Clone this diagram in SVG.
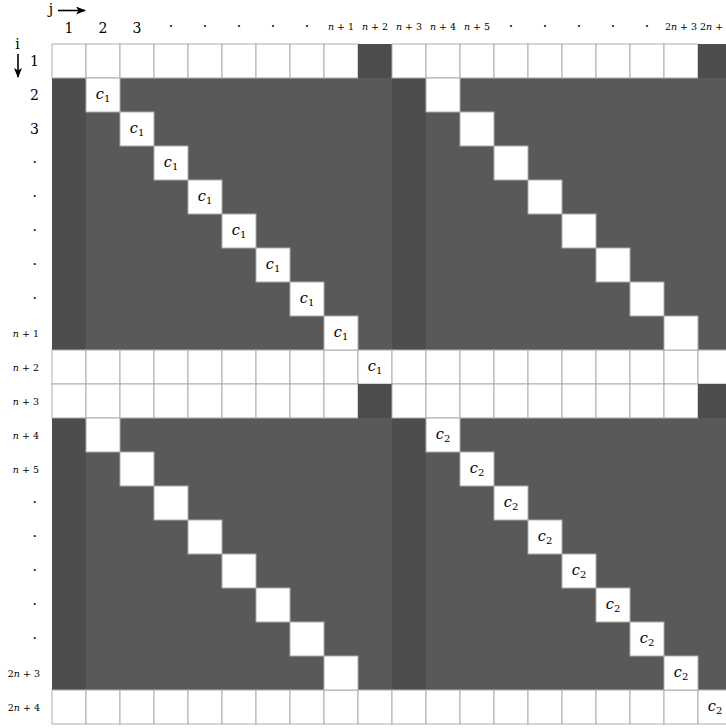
<svg xmlns="http://www.w3.org/2000/svg" width="726" height="728" viewBox="0 0 726 728">
<style>
.w{fill:#ffffff;stroke:#adadad;stroke-width:1}
.d{fill:#4d4d4d}
.m{fill:#595959}
text{font-family:"DejaVu Serif","Liberation Serif",serif;fill:#000}
.big{font-size:14px}
.sm{font-size:9.5px}
.mid{text-anchor:middle}
.end{text-anchor:end}
.c{font-size:14.5px;font-style:italic;text-anchor:middle}
.sub{font-size:10px;font-style:normal}
.dot{font-size:14px}
</style>
<defs>
<rect id="w" class="w" width="34" height="34"/>
<marker id="ah" viewBox="0 0 10 8" refX="9" refY="4" markerWidth="10" markerHeight="8" markerUnits="userSpaceOnUse" orient="auto">
<path d="M0,0 L10,4 L0,8 L2.5,4 Z" fill="#000"/>
</marker>
</defs>
<rect width="726" height="728" fill="#fff"/>

<g id="connectors" stroke="#000" stroke-width="1.6" fill="none">
<line x1="58" y1="10.5" x2="85" y2="10.5" marker-end="url(#ah)"/>
<line x1="18" y1="54" x2="18" y2="77" marker-end="url(#ah)"/>
</g>

<g id="axis-labels">
<text x="51" y="14" class="big mid">j</text>
<text x="17.5" y="49" class="big mid">i</text>
</g>

<g id="col-labels">
<text class="big mid" x="69" y="33">1</text>
<text class="big mid" x="103" y="33">2</text>
<text class="big mid" x="137" y="33">3</text>
<text class="dot mid" x="171" y="31">·</text>
<text class="dot mid" x="205" y="31">·</text>
<text class="dot mid" x="239" y="31">·</text>
<text class="dot mid" x="273" y="31">·</text>
<text class="dot mid" x="307" y="31">·</text>
<text class="sm mid" x="341" y="30"><tspan font-style="italic">n</tspan> + 1</text>
<text class="sm mid" x="375" y="30"><tspan font-style="italic">n</tspan> + 2</text>
<text class="sm mid" x="409" y="30"><tspan font-style="italic">n</tspan> + 3</text>
<text class="sm mid" x="443" y="30"><tspan font-style="italic">n</tspan> + 4</text>
<text class="sm mid" x="477" y="30"><tspan font-style="italic">n</tspan> + 5</text>
<text class="dot mid" x="511" y="31">·</text>
<text class="dot mid" x="545" y="31">·</text>
<text class="dot mid" x="579" y="31">·</text>
<text class="dot mid" x="613" y="31">·</text>
<text class="dot mid" x="647" y="31">·</text>
<text class="sm mid" x="681" y="30">2<tspan font-style="italic">n</tspan> + 3</text>
<text class="sm" x="700" y="30">2<tspan font-style="italic">n</tspan> + 4</text>
</g>

<g id="row-labels">
<text class="big end" x="39" y="66">1</text>
<text class="big end" x="39" y="100">2</text>
<text class="big end" x="39" y="134">3</text>
<text class="dot end" x="37" y="167">·</text>
<text class="dot end" x="37" y="201">·</text>
<text class="dot end" x="37" y="235">·</text>
<text class="dot end" x="37" y="269">·</text>
<text class="dot end" x="37" y="303">·</text>
<text class="sm end" x="39" y="337"><tspan font-style="italic">n</tspan> + 1</text>
<text class="sm end" x="39" y="371"><tspan font-style="italic">n</tspan> + 2</text>
<text class="sm end" x="39" y="405"><tspan font-style="italic">n</tspan> + 3</text>
<text class="sm end" x="39" y="439"><tspan font-style="italic">n</tspan> + 4</text>
<text class="sm end" x="39" y="473"><tspan font-style="italic">n</tspan> + 5</text>
<text class="dot end" x="37" y="507">·</text>
<text class="dot end" x="37" y="541">·</text>
<text class="dot end" x="37" y="575">·</text>
<text class="dot end" x="37" y="609">·</text>
<text class="dot end" x="37" y="643">·</text>
<text class="sm end" x="40" y="677">2<tspan font-style="italic">n</tspan> + 3</text>
<text class="sm end" x="40" y="711">2<tspan font-style="italic">n</tspan> + 4</text>
</g>

<g id="block-top">
<rect class="m" x="52" y="78" width="680" height="272"/>
<rect class="d" x="52" y="78" width="34" height="272"/>
<rect class="d" x="392" y="78" width="34" height="272"/>
</g>
<g id="block-bottom">
<rect class="m" x="52" y="418" width="680" height="272"/>
<rect class="d" x="52" y="418" width="34" height="272"/>
<rect class="d" x="392" y="418" width="34" height="272"/>
</g>

<g id="row1">
<use href="#w" x="52" y="44"/><use href="#w" x="86" y="44"/><use href="#w" x="120" y="44"/><use href="#w" x="154" y="44"/><use href="#w" x="188" y="44"/><use href="#w" x="222" y="44"/><use href="#w" x="256" y="44"/><use href="#w" x="290" y="44"/><use href="#w" x="324" y="44"/>
<rect class="d" x="358" y="44" width="34" height="34"/>
<use href="#w" x="392" y="44"/><use href="#w" x="426" y="44"/><use href="#w" x="460" y="44"/><use href="#w" x="494" y="44"/><use href="#w" x="528" y="44"/><use href="#w" x="562" y="44"/><use href="#w" x="596" y="44"/><use href="#w" x="630" y="44"/><use href="#w" x="664" y="44"/>
<rect class="d" x="698" y="44" width="34" height="34"/>
</g>

<g id="row-n2">
<use href="#w" x="52" y="350"/><use href="#w" x="86" y="350"/><use href="#w" x="120" y="350"/><use href="#w" x="154" y="350"/><use href="#w" x="188" y="350"/><use href="#w" x="222" y="350"/><use href="#w" x="256" y="350"/><use href="#w" x="290" y="350"/><use href="#w" x="324" y="350"/><use href="#w" x="358" y="350"/>
<use href="#w" x="392" y="350"/><use href="#w" x="426" y="350"/><use href="#w" x="460" y="350"/><use href="#w" x="494" y="350"/><use href="#w" x="528" y="350"/><use href="#w" x="562" y="350"/><use href="#w" x="596" y="350"/><use href="#w" x="630" y="350"/><use href="#w" x="664" y="350"/><use href="#w" x="698" y="350"/>
<text class="c" x="375" y="371">c<tspan class="sub" dy="3">1</tspan></text>
</g>

<g id="row-n3">
<use href="#w" x="52" y="384"/><use href="#w" x="86" y="384"/><use href="#w" x="120" y="384"/><use href="#w" x="154" y="384"/><use href="#w" x="188" y="384"/><use href="#w" x="222" y="384"/><use href="#w" x="256" y="384"/><use href="#w" x="290" y="384"/><use href="#w" x="324" y="384"/>
<rect class="d" x="358" y="384" width="34" height="34"/>
<use href="#w" x="392" y="384"/><use href="#w" x="426" y="384"/><use href="#w" x="460" y="384"/><use href="#w" x="494" y="384"/><use href="#w" x="528" y="384"/><use href="#w" x="562" y="384"/><use href="#w" x="596" y="384"/><use href="#w" x="630" y="384"/><use href="#w" x="664" y="384"/>
<rect class="d" x="698" y="384" width="34" height="34"/>
</g>

<g id="row-2n4">
<use href="#w" x="52" y="690"/><use href="#w" x="86" y="690"/><use href="#w" x="120" y="690"/><use href="#w" x="154" y="690"/><use href="#w" x="188" y="690"/><use href="#w" x="222" y="690"/><use href="#w" x="256" y="690"/><use href="#w" x="290" y="690"/><use href="#w" x="324" y="690"/><use href="#w" x="358" y="690"/>
<use href="#w" x="392" y="690"/><use href="#w" x="426" y="690"/><use href="#w" x="460" y="690"/><use href="#w" x="494" y="690"/><use href="#w" x="528" y="690"/><use href="#w" x="562" y="690"/><use href="#w" x="596" y="690"/><use href="#w" x="630" y="690"/><use href="#w" x="664" y="690"/><use href="#w" x="698" y="690"/>
<text class="c" x="715" y="711">c<tspan class="sub" dy="3">2</tspan></text>
</g>

<g id="diag-c1">
<use href="#w" x="86" y="78"/><text class="c" x="103" y="99">c<tspan class="sub" dy="3">1</tspan></text>
<use href="#w" x="120" y="112"/><text class="c" x="137" y="133">c<tspan class="sub" dy="3">1</tspan></text>
<use href="#w" x="154" y="146"/><text class="c" x="171" y="167">c<tspan class="sub" dy="3">1</tspan></text>
<use href="#w" x="188" y="180"/><text class="c" x="205" y="201">c<tspan class="sub" dy="3">1</tspan></text>
<use href="#w" x="222" y="214"/><text class="c" x="239" y="235">c<tspan class="sub" dy="3">1</tspan></text>
<use href="#w" x="256" y="248"/><text class="c" x="273" y="269">c<tspan class="sub" dy="3">1</tspan></text>
<use href="#w" x="290" y="282"/><text class="c" x="307" y="303">c<tspan class="sub" dy="3">1</tspan></text>
<use href="#w" x="324" y="316"/><text class="c" x="341" y="337">c<tspan class="sub" dy="3">1</tspan></text>
</g>

<g id="diag-top-right">
<use href="#w" x="426" y="78"/><use href="#w" x="460" y="112"/><use href="#w" x="494" y="146"/><use href="#w" x="528" y="180"/><use href="#w" x="562" y="214"/><use href="#w" x="596" y="248"/><use href="#w" x="630" y="282"/><use href="#w" x="664" y="316"/>
</g>

<g id="diag-bottom-left">
<use href="#w" x="86" y="418"/><use href="#w" x="120" y="452"/><use href="#w" x="154" y="486"/><use href="#w" x="188" y="520"/><use href="#w" x="222" y="554"/><use href="#w" x="256" y="588"/><use href="#w" x="290" y="622"/><use href="#w" x="324" y="656"/>
</g>

<g id="diag-c2">
<use href="#w" x="426" y="418"/><text class="c" x="443" y="439">c<tspan class="sub" dy="3">2</tspan></text>
<use href="#w" x="460" y="452"/><text class="c" x="477" y="473">c<tspan class="sub" dy="3">2</tspan></text>
<use href="#w" x="494" y="486"/><text class="c" x="511" y="507">c<tspan class="sub" dy="3">2</tspan></text>
<use href="#w" x="528" y="520"/><text class="c" x="545" y="541">c<tspan class="sub" dy="3">2</tspan></text>
<use href="#w" x="562" y="554"/><text class="c" x="579" y="575">c<tspan class="sub" dy="3">2</tspan></text>
<use href="#w" x="596" y="588"/><text class="c" x="613" y="609">c<tspan class="sub" dy="3">2</tspan></text>
<use href="#w" x="630" y="622"/><text class="c" x="647" y="643">c<tspan class="sub" dy="3">2</tspan></text>
<use href="#w" x="664" y="656"/><text class="c" x="681" y="677">c<tspan class="sub" dy="3">2</tspan></text>
</g>
</svg>
